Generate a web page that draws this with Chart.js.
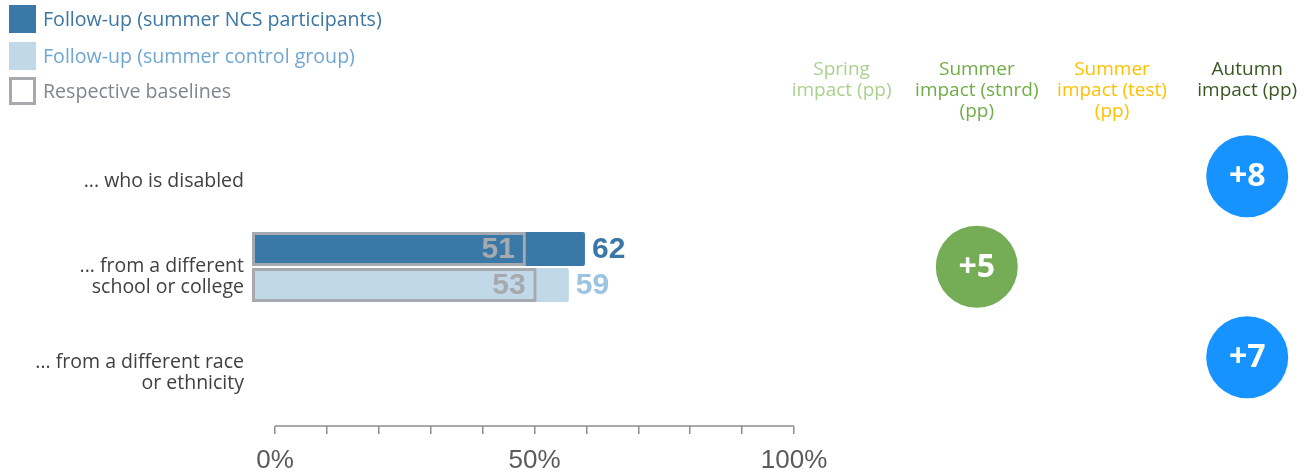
<!DOCTYPE html>
<html lang="en">
<head>
  <meta charset="UTF-8">
  <title>NCS impact - mixing with others</title>
  <script src="https://cdn.jsdelivr.net/npm/chart.js"></script>
  <style>
    body {
      margin: 0;
      background: #fff;
      font-family: 'Open Sans', sans-serif;
      width: 1304px;
      height: 475px;
      position: relative;
      overflow: hidden;
    }
    canvas { position: absolute; top: 0; }
    #barChart { left: 0; }
    #impactChart { left: 774px; }
    .legend { position: absolute; left: 9px; top: 0; z-index: 2; }
    .legend-item { position: absolute; left: 0; white-space: nowrap; height: 28px; }
    .swatch { position: absolute; left: 0; top: 0; width: 27px; height: 28px; box-sizing: border-box; }
    .legend-item span { position: absolute; left: 34px; top: 0; line-height: 28px; font-size: 19.6px; }
  </style>
</head>
<body>
  <div class="legend">
    <div class="legend-item" style="top:5px">
      <div class="swatch" style="background:#3A78A8"></div>
      <span style="color:#3A76A6">Follow-up (summer NCS participants)</span>
    </div>
    <div class="legend-item" style="top:42px">
      <div class="swatch" style="background:#C0D8E8"></div>
      <span style="color:#6EA6D4">Follow-up (summer control group)</span>
    </div>
    <div class="legend-item" style="top:77px">
      <div class="swatch" style="border:3px solid #A6A9AE"></div>
      <span style="color:#7F868E">Respective baselines</span>
    </div>
  </div>

  <canvas id="barChart" width="840" height="475"></canvas>
  <canvas id="impactChart" width="530" height="475"></canvas>

  <script>
    // rows of the chart
    const rows = [
      '... who is disabled',
      ['... from a different', 'school or college'],
      ['... from a different race', 'or ethnicity']
    ];

    // % at follow-up / baseline
    const ncsFollowUp = [null, 62, null];
    const controlFollowUp = [null, 59, null];
    const ncsBaseline = [null, 51, null];
    const controlBaseline = [null, 53, null];

    const pctTicks = [0, 10, 20, 30, 40, 50, 60, 70, 80, 90, 100];

    // impact columns (pp)
    const impactHeaders = [
      ['Spring', 'impact (pp)'],
      ['Summer', 'impact (stnrd)', '(pp)'],
      ['Summer', 'impact (test)', '(pp)'],
      ['Autumn', 'impact (pp)']
    ];
    const springImpact = [null, null, null];
    const summerStnrdImpact = [null, 5, null];
    const summerTestImpact = [null, null, null];
    const autumnImpact = [8, null, 7];

    Chart.defaults.font.family = '"Open Sans", sans-serif';
    Chart.defaults.animation = false;

    const valueLabels = {
      id: 'valueLabels',
      afterDatasetsDraw(chart) {
        const ctx = chart.ctx;
        chart.data.datasets.forEach((ds, i) => {
          const meta = chart.getDatasetMeta(i);
          meta.data.forEach((bar, j) => {
            const v = ds.data[j];
            if (v == null) return;
            ctx.save();
            ctx.font = 'bold 30px "Liberation Sans"';
            ctx.fillStyle = ds.labelColor;
            ctx.textBaseline = 'middle';
            if (ds.labelInside) {
              ctx.textAlign = 'right';
              ctx.fillText(v, bar.x - 11, bar.y + 1);
            } else {
              ctx.textAlign = 'left';
              ctx.fillText(v, bar.x + 7, bar.y + 1);
            }
            ctx.restore();
          });
        });
      }
    };

    // axis line only between 0% and 100%
    const axisLine = {
      id: 'axisLine',
      afterDraw(chart) {
        const s = chart.scales.x2;
        const ctx = chart.ctx;
        ctx.save();
        ctx.strokeStyle = '#8C8C8C';
        ctx.lineWidth = 1.5;
        ctx.beginPath();
        ctx.moveTo(s.getPixelForValue(0), s.top);
        ctx.lineTo(s.getPixelForValue(100), s.top);
        ctx.stroke();
        ctx.restore();
      }
    };

    new Chart(document.getElementById('barChart'), {
      type: 'bar',
      data: {
        labels: rows,
        datasets: [
          {
            label: 'NCS baseline', data: ncsBaseline, stack: 'ncs',
            backgroundColor: 'rgba(0,0,0,0)', borderColor: '#A6A9AE', borderWidth: 3,
            borderSkipped: false, labelColor: '#A6A9AE', labelInside: true
          },
          {
            label: 'Control baseline', data: controlBaseline, stack: 'ctrl',
            backgroundColor: 'rgba(0,0,0,0)', borderColor: '#A6A9AE', borderWidth: 3,
            borderSkipped: false, labelColor: '#A6A9AE', labelInside: true
          },
          {
            label: 'Follow-up (summer NCS participants)', data: ncsFollowUp, stack: 'ncs',
            backgroundColor: '#3A78A8', borderRadius: 2, labelColor: '#3A76A6'
          },
          {
            label: 'Follow-up (summer control group)', data: controlFollowUp, stack: 'ctrl',
            backgroundColor: '#C0D8E8', borderRadius: 2, labelColor: '#9DC3E2'
          }
        ]
      },
      options: {
        indexAxis: 'y',
        responsive: false,
        events: [],
        categoryPercentage: 0.75,
        barPercentage: 0.94,
        layout: { padding: { top: 123, right: 46, left: 0, bottom: 0 } },
        plugins: { legend: { display: false }, tooltip: { enabled: false } },
        scales: {
          y: {
            type: 'category',
            offset: true,
            grid: { display: false, drawTicks: false },
            border: { display: false },
            afterFit: s => { s.width = 252; },
            ticks: {
              color: '#404040',
              padding: 8,
              labelOffset: 10,
              font: { size: 19.5, lineHeight: 1.05 }
            }
          },
          x: {
            min: 0,
            max: 100.93,
            stacked: false,
            grid: { display: false },
            border: { display: false },
            ticks: { display: false },
            afterFit: s => { s.height = 15; }
          },
          x2: {
            type: 'linear',
            position: 'bottom',
            weight: 1,
            min: -4.43,
            max: 100,
            afterBuildTicks: s => { s.ticks = pctTicks.map(v => ({ value: v })); },
            afterFit: s => { s.height = 49; },
            grid: { drawOnChartArea: false, color: '#8C8C8C', lineWidth: 1.5, tickLength: 8 },
            border: { display: false },
            ticks: {
              autoSkip: false,
              maxRotation: 0,
              color: '#5A5A5A',
              padding: 11,
              font: { family: '"Liberation Sans", sans-serif', size: 26 },
              callback: v => (v % 50 === 0 ? v + '%' : '')
            }
          }
        }
      },
      plugins: [valueLabels, axisLine]
    });

    // impact bubbles
    const impactSeries = [springImpact, summerStnrdImpact, summerTestImpact, autumnImpact];
    const headerColors = ['#A9D18E', '#70AD47', '#FFC000', '#385723'];
    const bubbleColors = ['#A9D18E', '#75AD57', '#FFC000', '#1793FF'];

    const bubbleLabels = {
      id: 'bubbleLabels',
      afterDatasetsDraw(chart) {
        const ctx = chart.ctx;
        chart.data.datasets.forEach((ds, i) => {
          chart.getDatasetMeta(i).data.forEach((pt, j) => {
            ctx.save();
            ctx.font = 'bold 32px "Open Sans"';
            ctx.fillStyle = '#FFFFFF';
            ctx.textAlign = 'center';
            ctx.textBaseline = 'middle';
            ctx.fillText('+' + ds.data[j].v, pt.x, pt.y + 1);
            ctx.restore();
          });
        });
      }
    };

    new Chart(document.getElementById('impactChart'), {
      type: 'bubble',
      data: {
        datasets: impactSeries.map((vals, c) => ({
          label: impactHeaders[c].join(' '),
          data: vals.map((v, r) => (v == null ? null : { x: c, y: r, v: v })).filter(p => p),
          backgroundColor: bubbleColors[c],
          borderWidth: 0,
          radius: 41
        }))
      },
      options: {
        responsive: false,
        events: [],
        layout: { autoPadding: false, padding: { top: 0, bottom: 72.5, left: 0, right: 0 } },
        plugins: { legend: { display: false }, tooltip: { enabled: false } },
        scales: {
          x: {
            type: 'linear',
            position: 'top',
            min: -0.5,
            max: 3.42,
            afterBuildTicks: s => { s.ticks = impactHeaders.map((h, i) => ({ value: i })); },
            afterFit: s => { s.height = 131; s.paddingLeft = 0; s.paddingRight = 0; },
            grid: { display: false, drawTicks: false },
            border: { display: false },
            ticks: {
              autoSkip: false,
              maxRotation: 0,
              padding: 9,
              crossAlign: 'far',
              font: { size: 19, lineHeight: 1.1 },
              color: ctx => headerColors[ctx.index],
              callback: (v, i) => impactHeaders[i]
            }
          },
          y: { type: 'linear', min: -0.5, max: 2.5, reverse: true, display: false }
        }
      },
      plugins: [bubbleLabels]
    });
  </script>
</body>
</html>
